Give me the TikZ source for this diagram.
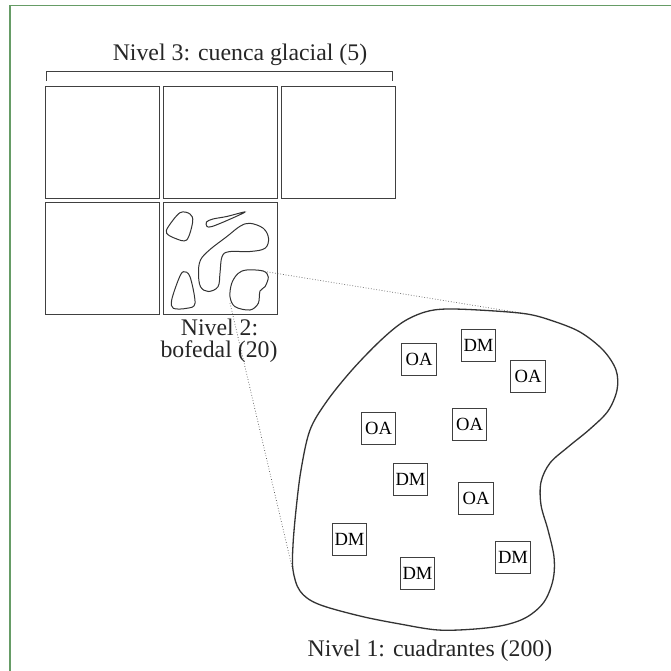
\documentclass[tikz,border=0pt]{standalone}
\usepackage{fontspec}
\setmainfont{Liberation Serif}
\begin{document}
\begin{tikzpicture}[x=1pt,y=-1pt,
  cell/.style={draw=black!75,line width=0.9pt},
  patch/.style={draw=black!80,line width=1pt},
  outline/.style={draw=black!80,line width=1.3pt},
  zoomline/.style={draw=black!70,line width=0.7pt,dotted},
  quadrat/.style={draw=black!75,line width=0.9pt,minimum width=34.5pt,minimum height=32pt,inner sep=0pt,
    font=\fontsize{18.6}{20}\selectfont},
  lbl/.style={font=\fontsize{23.8}{20}\selectfont,inner sep=0pt,anchor=base,text=black!85},
  frameline/.style={draw=green!35!black!60!white,line width=1.6pt}]
\useasboundingbox (0,0) rectangle (671,671);

% outer frame
\draw[frameline] (10,671) -- (10,5.5) -- (671,5.5);

% level 3: glacial basin grid
\node[lbl] (n3) at (240,61) {Nivel 3: cuenca glacial (5)};
\coordinate (bl) at (46,81);
\coordinate (br) at (392,81);
\draw[cell] (bl) -- ++(0,-10) -| (br);

\draw[cell] (45,86) rectangle (159,198);
\draw[cell] (163,86) rectangle (277,198);
\draw[cell] (281,86) rectangle (395,198);
\draw[cell] (45,202) rectangle (159,314);
\draw[cell] (163,202) rectangle (277,314);

% level 2: wetland patches
\draw[patch] plot[smooth cycle,tension=0.55] coordinates
  {(180,212.7) (190,214) (192.7,221.7) (186.7,240) (175,238.3) (166.7,233.3) (168.3,226.7)};
\draw[patch] plot[smooth cycle,tension=0.55] coordinates
  {(245,212) (226.7,216.5) (213,219) (206.5,222) (207,226.5) (212,226.5) (227,220.5)};
\draw[patch] plot[smooth cycle,tension=0.6] coordinates
  {(250,223.3) (263.3,228.3) (268.5,238.3) (265,248.3) (250,251.5) (229,251.7) (222,256.7) (220,273)
   (218,286.7) (208.3,291.5) (200.5,286.7) (198.5,273.3) (200.5,260) (210,249.5) (226.7,236.7) (240,226.3)};
\draw[patch] plot[smooth cycle,tension=0.55] coordinates
  {(183.3,271.7) (190,276.7) (195,303.3) (186.7,308.3) (173.3,308.3) (171.7,300) (178.3,280)};
\draw[patch] plot[smooth cycle,tension=0.55] coordinates
  {(246.7,270) (263.3,271) (268.3,277) (265,286.7) (260,291) (258.3,303.3) (250,310)
   (235,306.7) (230,296.7) (231.7,283.3) (238,273.5)};

\node[lbl] (n2a) at (219.5,335.5) {Nivel 2:};
\node[lbl] (n2b) at (219,357) {bofedal (20)};

% zoom guides
\coordinate (za) at (261.7,271);
\coordinate (zb) at (230,303);
\coordinate (ea) at (527,314);
\coordinate (eb) at (292,567);
\draw[zoomline] (za) -- (ea);
\draw[zoomline] (zb) -- (eb);

% level 1: enlarged wetland with quadrats
\draw[outline] plot[smooth cycle,tension=0.55] coordinates
  {(447,309) (487,310.5) (527,314) (553,321) (580,332) (603,350) (616,370) (617,390) (608,411)
   (590,429) (568,447) (550,463) (541,482) (541,505) (548,530) (554,557) (553,580) (544,602)
   (527,617) (505,625) (475,629) (438,630) (400,624) (360,616) (318,604) (300,591) (293,570)
   (293,545) (296,510) (301,470) (310,430) (327,401) (352,370) (380,341) (403,322) (425,312)};

\node[quadrat] (q1) at (419,359) {OA};
\node[quadrat] (q2) at (478.5,345) {DM};
\node[quadrat] (q3) at (528,376) {OA};
\node[quadrat] (q4) at (378.5,428) {OA};
\node[quadrat] (q5) at (469.5,424) {OA};
\node[quadrat] (q6) at (410.5,479) {DM};
\node[quadrat] (q7) at (476,498) {OA};
\node[quadrat] (q8) at (349.5,539) {DM};
\node[quadrat] (q9) at (417.5,573) {DM};
\node[quadrat] (q10) at (513,557) {DM};

\node[lbl] (n1) at (430,656) {Nivel 1: cuadrantes (200)};
\end{tikzpicture}
\end{document}
